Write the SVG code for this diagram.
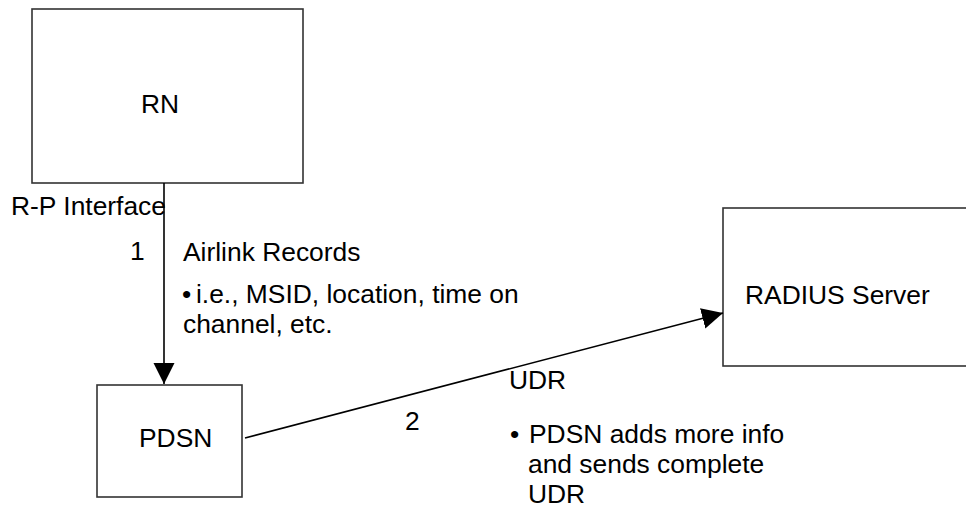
<svg xmlns="http://www.w3.org/2000/svg" width="966" height="508" viewBox="0 0 966 508">
<style>
.box{fill:#ffffff;stroke:#333333;stroke-width:1.6}
.t{font-family:"Liberation Sans",Arial,sans-serif;font-size:26.4px;fill:#000000}
.conn{stroke:#000000;stroke-width:1.6;fill:none}
</style>
<defs>
<marker id="arr" markerUnits="userSpaceOnUse" markerWidth="22" markerHeight="22" refX="21" refY="10.5" orient="auto">
<path d="M0,0 L21,10.5 L0,21 Z" fill="#000000"/>
</marker>
</defs>
<rect width="966" height="508" fill="#ffffff"/>
<g id="rn">
<rect class="box" x="32" y="9" width="271" height="174"/>
<text class="t" x="160" y="113" text-anchor="middle">RN</text>
</g>
<g id="pdsn">
<rect class="box" x="97" y="385" width="145" height="112"/>
<text class="t" x="139" y="447">PDSN</text>
</g>
<g id="radius">
<rect class="box" x="723" y="208" width="270" height="158"/>
<text class="t" x="745" y="304">RADIUS Server</text>
</g>
<g id="connectors">
<line class="conn" x1="164" y1="183" x2="164" y2="384" marker-end="url(#arr)"/>
<line class="conn" x1="245" y1="438" x2="723" y2="313" marker-end="url(#arr)"/>
</g>
<g id="labels">
<text class="t" x="11" y="215">R-P Interface</text>
<text class="t" x="130" y="260">1</text>
<text class="t" x="183" y="261">Airlink Records</text>
<text class="t" x="182" y="303">•</text>
<text class="t" x="196" y="303">i.e., MSID, location, time on</text>
<text class="t" x="183" y="333">channel, etc.</text>
<text class="t" x="405" y="430">2</text>
<text class="t" x="509" y="389">UDR</text>
<text class="t" x="510" y="443">•</text>
<text class="t" x="529" y="443">PDSN adds more info</text>
<text class="t" x="528" y="473">and sends complete</text>
<text class="t" x="528" y="503">UDR</text>
</g>
</svg>
